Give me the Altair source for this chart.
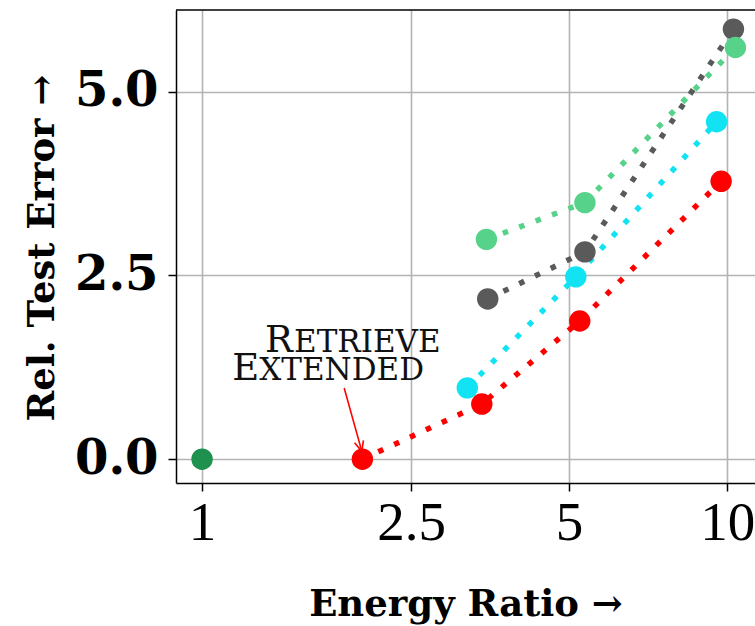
import altair as alt
import pandas as pd

# ---- data ----
series = ["Method A", "Method B", "Method C", "Method D", "Baseline"]
ratio_a = [3.50, 5.36, 10.28]
err_a = [2.18, 2.82, 5.85]
ratio_b = [3.48, 5.36, 10.37]
err_b = [2.99, 3.49, 5.60]
ratio_c = [3.20, 5.15, 9.55]
err_c = [0.97, 2.48, 4.59]
ratio_d = [2.02, 3.41, 5.24, 9.74]
err_d = [0.00, 0.75, 1.88, 3.78]
ratio_base = [1.0]
err_base = [0.0]

x_ticks = [1, 2.5, 5, 10]
y_ticks = [0, 2.5, 5]

colors = ["#5a5a5a", "#57d28a", "#12e3f3", "#ff0000", "#1e914f"]

rows = []
for name, rs, es in zip(series,
                        [ratio_a, ratio_b, ratio_c, ratio_d, ratio_base],
                        [err_a, err_b, err_c, err_d, err_base]):
    for i, (r, e) in enumerate(zip(rs, es)):
        rows.append({"series": name, "ratio": r, "err": e, "i": i})
df = pd.DataFrame(rows)

# annotation (data coordinates)
ann_caps = pd.DataFrame({"ratio": [1.318, 1.141], "err": [1.464, 1.083], "t": ["R", "E"]})
ann_rest1 = pd.DataFrame({"ratio": [1.318], "err": [1.464], "t": ["ETRIEVE"]})
ann_rest2 = pd.DataFrame({"ratio": [1.141], "err": [1.083], "t": ["XTENDED"]})
arrow = pd.DataFrame({"ratio": [1.865], "err": [0.969], "ratio2": [2.015], "err2": [0.106]})
arrow_tip = pd.DataFrame({"ratio": [2.015], "err": [0.106]})

W, H = 579, 473

x_enc = alt.X(
    "ratio:Q",
    scale=alt.Scale(type="log", domain=[0.892, 11.3], nice=False),
    axis=alt.Axis(
        values=x_ticks, format="~g", title="Energy Ratio →",
        labelFont="Liberation Serif", labelFontSize=55, labelColor="black",
        labelPadding=5, labelFlush=False, labelOverlap=False, labelBound=False,
        tickSize=8, tickColor="black", tickWidth=1.5,
        domainColor="black", domainWidth=1.5,
        grid=True, gridColor="#b3b3b3", gridWidth=1.6,
        titleFont="DejaVu Serif", titleFontWeight="bold", titleFontSize=37,
        titleColor="black", titleY=132, titleBaseline="alphabetic",
    ),
)
y_enc = alt.Y(
    "err:Q",
    scale=alt.Scale(domain=[-0.324, 6.11], nice=False, zero=False),
    axis=alt.Axis(
        values=y_ticks, format=".1f", title="Rel. Test Error →",
        labelFont="DejaVu Serif", labelFontWeight="bold", labelFontSize=48,
        labelColor="black", labelPadding=10, labelOverlap=False, labelBound=False,
        tickSize=8, tickColor="black", tickWidth=1.5,
        domainColor="black", domainWidth=1.5,
        grid=True, gridColor="#b3b3b3", gridWidth=1.6,
        titleFont="DejaVu Serif", titleFontWeight="bold", titleFontSize=37,
        titleColor="black", titleX=-123, titleY=H / 2 + 1, titleAngle=270,
        titleAlign="center", titleBaseline="alphabetic",
    ),
)
color_enc = alt.Color("series:N", scale=alt.Scale(domain=series, range=colors), legend=None)

base = alt.Chart(df).encode(x=x_enc, y=y_enc, color=color_enc)

lines = base.mark_line(strokeWidth=5.5, strokeDash=[5.5, 12], strokeCap="butt").encode(
    detail="series:N", order="i:Q"
)
points = base.mark_circle(size=460, opacity=1)

caps = alt.Chart(ann_caps).mark_text(
    font="DejaVu Serif", fontSize=37, align="left", baseline="alphabetic", color="#111111"
).encode(x=x_enc, y=y_enc, text="t:N")
rest1 = alt.Chart(ann_rest1).mark_text(
    font="DejaVu Serif", fontSize=31, align="left", baseline="alphabetic", color="#111111", dx=29
).encode(x=x_enc, y=y_enc, text="t:N")
rest2 = alt.Chart(ann_rest2).mark_text(
    font="DejaVu Serif", fontSize=31, align="left", baseline="alphabetic", color="#111111", dx=27
).encode(x=x_enc, y=y_enc, text="t:N")

shaft = alt.Chart(arrow).mark_rule(color="red", strokeWidth=1.6).encode(
    x=x_enc, y=y_enc, x2=alt.X2("ratio2:Q"), y2=alt.Y2("err2:Q")
)
head = alt.Chart(arrow_tip).mark_point(
    shape="M -0.45 -1 L 0 0 L 0.45 -1", filled=False, stroke="red",
    strokeWidth=1.6, size=420, angle=344, opacity=1
).encode(x=x_enc, y=y_enc)

top_border = alt.Chart(pd.DataFrame({"v": [0]})).mark_rule(
    color="black", strokeWidth=1.5
).encode(x=alt.value(0), x2=alt.value(W), y=alt.value(0))

chart = alt.layer(lines, points, shaft, head, caps, rest1, rest2, top_border).properties(
    width=W, height=H,
    autosize=alt.AutoSizeParams(type="none"),
    padding={"left": 176, "top": 10, "right": 0, "bottom": 143},
    background="white",
).configure_view(strokeWidth=0)

chart.save("out.html", embed_options={"renderer": "svg", "actions": False})
